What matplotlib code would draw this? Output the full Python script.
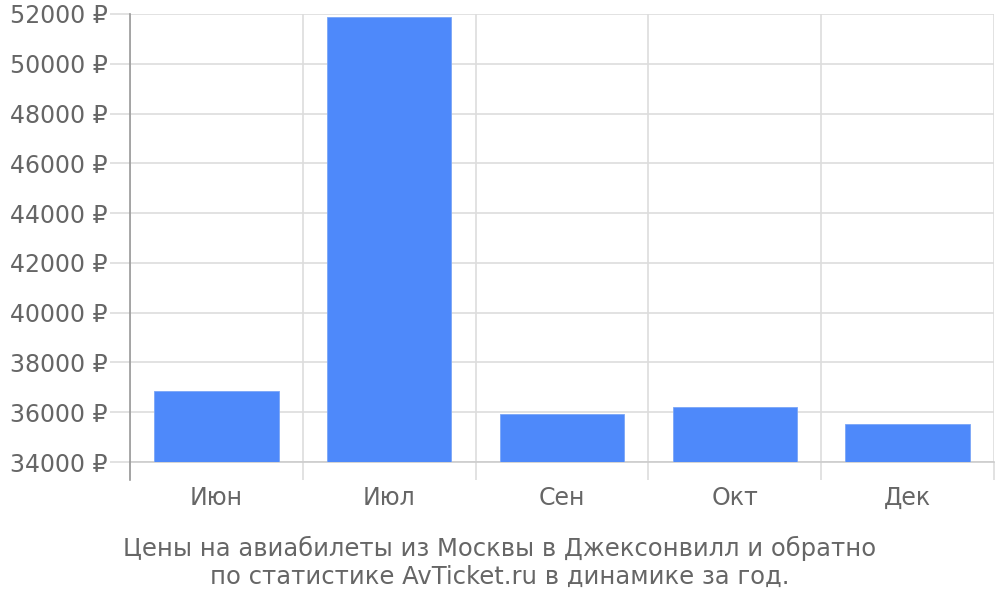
import matplotlib
matplotlib.use("Agg")
import matplotlib.pyplot as plt
from matplotlib.lines import Line2D

months = ["Июн", "Июл", "Сен", "Окт", "Дек"]
prices = [36850, 51880, 35940, 36200, 35530]
y_ticks = [34000, 36000, 38000, 40000, 42000, 44000, 46000, 48000, 50000, 52000]
caption_lines = ["Цены на авиабилеты из Москвы в Джексонвилл и обратно",
                 "по статистике AvTicket.ru в динамике за год."]

plt.rcParams['font.family'] = ['DejaVu Sans']
fig = plt.figure(figsize=(10, 6), dpi=100)
ax = fig.add_axes([0.13, 0.23, 0.864, 0.7467])

x = list(range(len(months)))
ax.bar(x, prices, width=0.72, color="#4e89fa", edgecolor="#7aa6f7", linewidth=0.6, zorder=3)

ax.set_xlim(-0.5, len(months) - 0.5)
ax.set_ylim(y_ticks[0], y_ticks[-1])
ax.set_yticks(y_ticks)
ax.set_yticklabels([f"{v} ₽" for v in y_ticks])
ax.set_xticks(x)
ax.set_xticklabels(months)
ax.set_xticks([i - 0.5 for i in range(len(months) + 1)], minor=True)

ax.grid(axis='y', which='major', color="#dddddd", linewidth=1.2, zorder=0)
ax.grid(axis='x', which='minor', color="#dddddd", linewidth=1.2, zorder=0)
ax.grid(axis='x', which='major', visible=False)

ax.tick_params(axis='y', which='major', length=14.4, color="#dddddd", width=1.2,
               labelsize=17, labelcolor="#666666", pad=1.5)
ax.tick_params(axis='x', which='major', length=0, labelsize=17, labelcolor="#666666", pad=17)
ax.tick_params(axis='x', which='minor', length=13, color="#dddddd", width=1.2)

for s in ['top', 'right']:
    ax.spines[s].set_visible(False)
ax.spines['bottom'].set_color("#cccccc")
ax.spines['bottom'].set_linewidth(1.2)
ax.spines['left'].set_visible(False)
ax.add_line(Line2D([0, 0], [1, -18 / 448], transform=ax.transAxes, color="#999999",
                   linewidth=1.2, clip_on=False, zorder=4))

fig.text(0.5, 1 - 556 / 600, caption_lines[0], ha='center', va='baseline',
         fontsize=17.5, color="#666666")
fig.text(0.5, 1 - 584 / 600, caption_lines[1], ha='center', va='baseline',
         fontsize=17.5, color="#666666")

fig.savefig("out.png", dpi=100)
